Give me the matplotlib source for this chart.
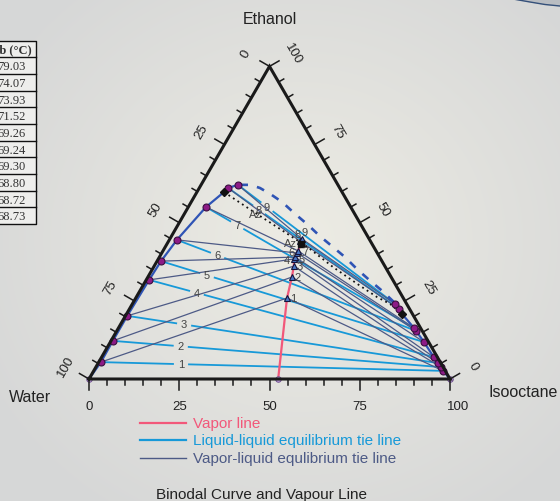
import numpy as np
import matplotlib
matplotlib.use('Agg')
import matplotlib.pyplot as plt

plt.rcParams['font.family'] = ['Liberation Sans', 'DejaVu Sans']

# ---------------- data (Isooctane %, Ethanol %; Water = rest) ----------------
# liquid-liquid tie lines: water-rich phase (A) and isooctane-rich phase (B)
llA_iso = [0.6, 0.5, 0.5, 0.8, 1.1, 2.1, 4.9, 8.0, 10.2]
llA_eth = [5.4, 12.2, 20.2, 31.7, 37.7, 44.5, 55.0, 61.1, 62.1]
llB_iso = [96.8, 95.6, 94.1, 92.0, 86.9, 82.9, 81.9, 74.7, 72.8]
llB_eth = [2.6, 3.8, 5.1, 7.0, 11.8, 15.4, 16.3, 22.4, 24.0]
# vapour compositions
vap_iso = [41.9, 39.9, 38.7, 37.6, 37.6, 37.5, 37.4, 36.4, 36.6]
vap_eth = [25.9, 32.6, 36.1, 38.4, 39.0, 40.3, 41.0, 44.1, 44.8]
tie_labels = ['1', '2', '3', '4', '5', '6', '7', '8', '9']

# binodal curve
bin_left_iso = [0, 0.6, 0.5, 0.5, 0.8, 1.1, 2.1, 4.9, 7.5, 8.0, 10.2]
bin_left_eth = [0, 5.4, 12.2, 20.2, 31.7, 37.7, 44.5, 55.0, 59.8, 61.1, 62.1]
bin_right_iso = [72.8, 74.7, 76.3, 81.9, 82.9, 86.9, 92.0, 94.1, 95.6, 96.8, 100]
bin_right_eth = [24.0, 22.4, 20.8, 16.3, 15.4, 11.8, 7.0, 5.1, 3.8, 2.6, 0]

# upper dashed curve
dash_iso = [10.8, 13.6, 16.8, 20.6, 25.2, 30.7, 36.0, 41.1, 46.5, 51.4, 56.6, 62.2, 67.1, 72.6]
dash_eth = [62.1, 62.1, 61.1, 59.2, 56.6, 52.8, 49.3, 45.7, 42.2, 39.0, 35.2, 31.4, 28.2, 24.3]

# dotted curve through azeotrope
dot_iso = [7.5, 19.0, 28.9, 36.5, 40.4, 49.7, 60.2, 66.7, 71.4, 76.3]
dot_eth = [59.8, 53.4, 48.0, 43.8, 41.6, 35.8, 29.8, 26.2, 24.0, 20.8]

# vapour line
vline_iso = [52.4, 41.9, 39.9, 38.7, 37.6, 37.5, 37.1, 36.6]
vline_eth = [0.0, 25.9, 32.6, 36.1, 38.4, 40.3, 43.2, 44.8]

# azeotrope markers
az_iso = [7.5, 37.1, 76.3]
az_eth = [59.8, 43.2, 20.8]

tick_vals = [0, 25, 50, 75, 100]
tb_header = 'Tb (°C)'
tb_values = ['79.03', '74.07', '73.93', '71.52', '69.26', '69.24', '69.30', '68.80', '68.72', '68.73']

# ---------------- helpers ----------------
H = np.sqrt(3) / 2


def tern(iso, eth):
    iso = np.asarray(iso, float) / 100
    eth = np.asarray(eth, float) / 100
    return iso + eth / 2, eth * H


W, Hf = 560, 502
fig = plt.figure(figsize=(W / 100, Hf / 100), dpi=100)

# background gradient
bg = fig.add_axes([0, 0, 1, 1], zorder=-10)
yy, xx = np.mgrid[0:Hf, 0:W]
r = np.clip(np.sqrt(((xx - 300) / 360) ** 2 + ((yy - 240) / 330) ** 2), 0, 1)
c0 = np.array([237, 236, 228]) / 255
c1 = np.array([214, 215, 215]) / 255
img = c0[None, None, :] * (1 - r[..., None]) + c1[None, None, :] * r[..., None]
bg.imshow(img, extent=[0, W, Hf, 0], aspect='auto')
bg.set_xlim(0, W)
bg.set_ylim(Hf, 0)
bg.axis('off')

# small corner artefact (top right)
bg.fill_between([513, 530, 545, 560], [0, 3, 5.5, 7], [0, 0, 0, 0], color='#b9bdc2', lw=0)
bg.plot([513, 530, 545, 560], [0, 3, 5.5, 7], color='#34507a', lw=1)

# main ternary axes, x: 0..1 maps to px 89..450
ax = fig.add_axes([89 / W, (Hf - 380) / Hf, 361 / W, 361 * H / Hf])
ax.set_xlim(0, 1)
ax.set_ylim(0, H)
ax.axis('off')
u = 1 / 361  # one pixel in data units

C_BIN = '#2f54b5'
C_LLE = '#1799d8'
C_VLE = '#4d5a86'
C_VAP = '#f2587a'

# LLE tie lines with a gap for the label
label_t = [0.234, 0.207, 0.183, 0.168, 0.175, 0.17, 0.15, 0.18, 0.185]
ax_x, ax_y = tern(llA_iso, llA_eth)
bx_x, bx_y = tern(llB_iso, llB_eth)
for i in range(len(llA_iso)):
    p0 = np.array([ax_x[i], ax_y[i]])
    p1 = np.array([bx_x[i], bx_y[i]])
    d = p1 - p0
    ln = np.hypot(*d)
    t = label_t[i]
    g = 8 * u / ln
    pa = p0 + (t - g) * d
    pb = p0 + (t + g) * d
    ax.plot([p0[0], pa[0]], [p0[1], pa[1]], color=C_LLE, lw=1.3, zorder=2, clip_on=False)
    ax.plot([pb[0], p1[0]], [pb[1], p1[1]], color=C_LLE, lw=1.3, zorder=2, clip_on=False)
    pc = p0 + t * d
    ax.text(pc[0], pc[1], tie_labels[i], fontsize=8, color='#444444', ha='center', va='center', zorder=5)

# VLE tie lines
vx, vy = tern(vap_iso, vap_eth)
for i in range(len(vap_iso)):
    ax.plot([ax_x[i], vx[i], bx_x[i]], [ax_y[i], vy[i], bx_y[i]], color=C_VLE, lw=0.9, zorder=3, clip_on=False)

# binodal
x, y = tern(bin_left_iso, bin_left_eth)
ax.plot(x, y, color=C_BIN, lw=1.6, zorder=4, clip_on=False)
x, y = tern(bin_right_iso, bin_right_eth)
ax.plot(x, y, color=C_BIN, lw=1.6, zorder=4, clip_on=False)

# dashed & dotted curves
x, y = tern(dash_iso, dash_eth)
ax.plot(x, y, color=C_BIN, lw=1.9, dashes=(3, 3.5), zorder=4, clip_on=False)
x, y = tern(dot_iso, dot_eth)
ax.plot(x, y, color='#111111', lw=1.3, dashes=(1, 2), zorder=4, clip_on=False)

# vapour line
x, y = tern(vline_iso, vline_eth)
ax.plot(x, y, color=C_VAP, lw=1.6, zorder=5, clip_on=False)

# markers
ax.plot(ax_x, ax_y, 'o', ms=5, mfc='#8d1b86', mec='#3b0f40', mew=0.8, zorder=6, clip_on=False)
ax.plot(bx_x, bx_y, 'o', ms=5, mfc='#8d1b86', mec='#3b0f40', mew=0.8, zorder=6, clip_on=False)
ax.plot(vx, vy, '^', ms=5, mfc='#4a78c8', mec='#15153a', mew=0.8, zorder=7, clip_on=False)
x, y = tern(az_iso, az_eth)
ax.plot(x[[0, 2]], y[[0, 2]], 'D', ms=4.5, color='#111111', zorder=7, clip_on=False)
ax.plot(x[1], y[1], 's', ms=5, color='#111111', zorder=7, clip_on=False)
x, y = tern([0, 100, vline_iso[0]], [0, 0, 0])
ax.plot(x, y, 'o', ms=4, mfc='#b79ad6', mec='#6a4a8a', mew=0.6, zorder=8, clip_on=False)

# vapour point labels
vlab_off = [(6, 0), (6, 0), (6, 0), (-7, -1), (7, -2), (-6, 1), (7, 0), (-2, 7), (3, 7)]
for i in range(len(vap_iso)):
    ox, oy = vlab_off[i]
    ax.text(vx[i] + ox * u, vy[i] + oy * u, tie_labels[i], fontsize=8, color='#444444',
            ha='center', va='center', zorder=9)
x, y = tern(az_iso, az_eth)
ax.text(x[1] - 10 * u, y[1] + 1 * u, 'Az', fontsize=8, color='#444444', ha='center', va='center', zorder=9)
ax.text(x[0] + 31 * u, y[0] - 22 * u, 'Az', fontsize=8, color='#444444', ha='center', va='center', zorder=9)

# triangle frame
ax.plot([0, 1, 0.5, 0], [0, 0, H, 0], color='#1a1a1a', lw=2.2, zorder=10, clip_on=False,
        solid_joinstyle='miter')

# ticks
nl = np.array([-H, 0.5])
nr = np.array([H, 0.5])
nb = np.array([0, -1.0])
for v in range(0, 101, 5):
    f = v / 100
    L = (11 if v % 25 == 0 else 6) * u
    for p, n in [(np.array([f, 0]), nb),
                 (np.array([(1 - f) * 0.5, (1 - f) * H]), nl),
                 (np.array([1 - f / 2, f * H]), nr)]:
        q = p + L * n
        ax.plot([p[0], q[0]], [p[1], q[1]], color='#1a1a1a', lw=1.1, zorder=10, clip_on=False)

for v in tick_vals:
    f = v / 100
    p = np.array([f, 0]) + 27 * u * nb
    if v == 100:
        p = p + np.array([8 * u, 0])
    ax.text(p[0], p[1], str(v), fontsize=9.5, ha='center', va='center', color='#222222')
    p = np.array([(1 - f) * 0.5, (1 - f) * H]) + 27 * u * nl
    ax.text(p[0], p[1], str(v), fontsize=9.5, ha='center', va='center', rotation=60, color='#222222')
    p = np.array([1 - f / 2, f * H]) + 27 * u * nr
    ax.text(p[0], p[1], str(v), fontsize=9.5, ha='center', va='center', rotation=-60, color='#222222')


def ftxt(px, py, s, **kw):
    fig.text(px / W, 1 - py / Hf, s, **kw)


ftxt(270, 20, 'Ethanol', fontsize=11.5, ha='center', va='center', color='#222222')
ftxt(30, 398, 'Water', fontsize=11.5, ha='center', va='center', color='#222222')
ftxt(523, 393, 'Isooctane', fontsize=11.5, ha='center', va='center', color='#222222')

# legend
for py, col, lab in [(424, C_VAP, 'Vapor line'),
                     (441, C_LLE, 'Liquid-liquid equilibrium tie line'),
                     (459, C_VLE, 'Vapor-liquid equlibrium tie line')]:
    bg.plot([140, 186], [py, py], color=col, lw=1.6 if col != C_VLE else 1.0)
    ftxt(193, py, lab, fontsize=11, ha='left', va='center', color=col)

ftxt(261, 495, 'Binodal Curve and Vapour Line', fontsize=11, ha='center', va='center', color='#222222')

# partial table at left (cut by the figure edge)
top, rh, right, colc = 41.7, 16.67, 36, 11.5
rows = [tb_header] + tb_values
bottom = top + rh * len(rows)
bg.fill_between([0, right], [top, top], [bottom, bottom], color='#eeeeec', zorder=1)
bg.plot([-2, right, right, -2], [top, top, bottom, bottom], color='#111111', lw=1, zorder=2)
for k, s in enumerate(rows):
    yk = top + rh * (k + 0.5)
    if k > 0:
        bg.plot([0, right], [top + rh * k] * 2, color='#111111', lw=1, zorder=2)
    bg.text(colc, yk + 0.5, s, fontsize=9, ha='center', va='center',
            fontweight='bold' if k == 0 else 'normal',
            family=['Liberation Serif', 'DejaVu Serif'], color='#333333', zorder=3)

fig.savefig('out.png', dpi=100)
